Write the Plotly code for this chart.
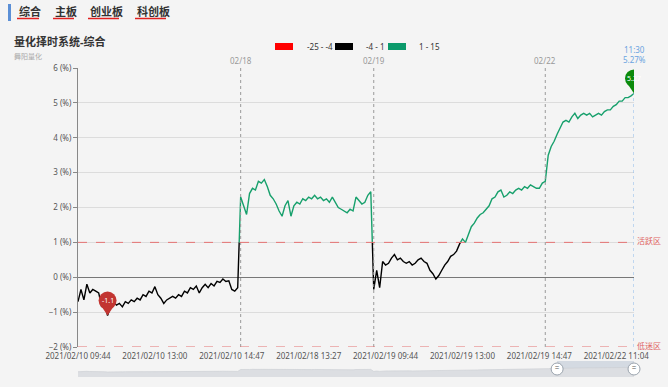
import plotly.graph_objects as go

# ---------------- data ----------------
tabs = ["综合", "主板", "创业板", "科创板"]
title_text = "量化择时系统-综合"
subtitle_text = "舞阳量化"
legend_labels = ["-25 - -4", "-4 - 1", "1 - 15"]
legend_colors = ["#ff0000", "#000000", "#0b9a6b"]
thresholds = [-4, 1]
line_colors = ["#ff0000", "#000000", "#17a06c"]

values = [
    -0.70, -0.35, -0.65, -0.20, -0.45, -0.35, -0.40, -0.45, -0.85, -0.75,
    -1.10, -0.85, -0.70, -0.80, -0.75, -0.85, -0.70, -0.75, -0.65, -0.70,
    -0.60, -0.65, -0.50, -0.55, -0.40, -0.45, -0.27, -0.50, -0.60, -0.75,
    -0.65, -0.60, -0.55, -0.60, -0.50, -0.55, -0.40, -0.45, -0.30, -0.35,
    -0.25, -0.45, -0.30, -0.20, -0.30, -0.18, -0.25, -0.12, -0.15, -0.05,
    -0.12, -0.10, -0.35, -0.40, -0.30, 2.30, 2.05, 1.80, 2.40, 2.55,
    2.50, 2.75, 2.70, 2.80, 2.60, 2.35, 2.25, 2.10, 1.90, 1.75,
    2.05, 2.20, 1.75, 2.05, 2.15, 2.10, 2.25, 2.20, 2.30, 2.25,
    2.35, 2.25, 2.30, 2.20, 2.25, 2.15, 2.30, 2.15, 2.00, 1.95,
    1.90, 1.85, 1.95, 1.90, 2.30, 2.20, 2.10, 2.15, 2.35, 2.45,
    -0.35, 0.20, -0.30, 0.45, 0.35, 0.40, 0.55, 0.65, 0.50, 0.55,
    0.45, 0.40, 0.45, 0.35, 0.40, 0.50, 0.55, 0.45, 0.40, 0.20,
    0.10, -0.05, 0.05, 0.20, 0.35, 0.45, 0.60, 0.65, 0.75, 0.95,
    1.10, 1.00, 1.25, 1.45, 1.55, 1.70, 1.80, 1.85, 1.95, 2.05,
    2.25, 2.30, 2.45, 2.50, 2.30, 2.35, 2.45, 2.40, 2.50, 2.55,
    2.50, 2.60, 2.55, 2.65, 2.60, 2.55, 2.55, 2.70, 2.75, 3.50,
    3.75, 3.90, 4.10, 4.30, 4.45, 4.50, 4.45, 4.60, 4.70, 4.55,
    4.65, 4.70, 4.65, 4.70, 4.60, 4.65, 4.70, 4.65, 4.75, 4.80,
    4.80, 4.90, 4.95, 5.05, 5.05, 5.15, 5.15, 5.20, 5.27,
]
tick_idx = [0, 26, 52, 78, 104, 130, 156, 182]
tick_text = ["2021/02/10 09:44", "2021/02/10 13:00", "2021/02/10 14:47",
             "2021/02/18 13:27", "2021/02/19 09:44", "2021/02/19 13:00",
             "2021/02/19 14:47", "2021/02/22 11:04"]
day_idx = [55, 100, 158]
day_text = ["02/18", "02/19", "02/22"]
zone_levels = [1, -2]
zone_text = ["活跃区", "低迷区"]
last_time = "11:30"
zoom_window = [162, 188]

# ---------------- layout helpers ----------------
W, H = 668, 387
ML, MR, MT, MB = 78, 34, 68, 10
PW, PH = W - ML - MR, H - MT - MB
MAIN_BOTTOM = 347
SLIDER_TOP = 361


def px2x(px):
    return (px - ML) / PW


def py2y(py):
    return (H - MB - py) / PH


FONT = "Noto Sans, Noto Sans CJK SC, sans-serif"
n = len(values)
xs_all = list(range(n))


def band(v):
    if v < thresholds[0]:
        return 0
    if v <= thresholds[1]:
        return 1
    return 2


# split line into colour bands (visual map)
segments = []
cur = band(values[0])
sx, sy = [0], [values[0]]
for i in range(1, n):
    v0, v1 = values[i - 1], values[i]
    b1 = band(v1)
    if b1 != cur:
        lv_list = [t for t in thresholds if min(v0, v1) < t < max(v0, v1) or t == v1 or t == v0]
        lv_list = sorted(set(lv_list), reverse=(v1 < v0))
        for lv in lv_list:
            if v1 == v0:
                continue
            t = (lv - v0) / (v1 - v0)
            xc = i - 1 + t
            sx.append(xc)
            sy.append(lv)
            segments.append((cur, sx, sy))
            cur = band(lv + (1e-9 if v1 > v0 else -1e-9))
            sx, sy = [xc], [lv]
        cur = b1
    sx.append(i)
    sy.append(v1)
segments.append((cur, sx, sy))

fig = go.Figure()

for b, x, y in segments:
    fig.add_trace(go.Scatter(x=x, y=y, mode="lines", line=dict(color=line_colors[b], width=1.4),
                             showlegend=False, hoverinfo="skip"))

# slider silhouette
fig.add_trace(go.Scatter(x=xs_all, y=[v + 8 for v in values], xaxis="x2", yaxis="y2", mode="lines",
                         fill="tozeroy", fillcolor="#dcdee2", line=dict(color="#c9ccd1", width=0.6),
                         showlegend=False, hoverinfo="skip"))
fig.add_trace(go.Scatter(x=zoom_window, y=[11, 11], xaxis="x2", yaxis="y2", mode="markers+text",
                         marker=dict(size=12, color="white", line=dict(color="#9aa3ad", width=1)),
                         text=["=", "="], textposition="middle center",
                         textfont=dict(size=8, color="#555"),
                         showlegend=False, hoverinfo="skip", cliponaxis=False))

shapes = []
annotations = []

# day separators
for d, t in zip(day_idx, day_text):
    shapes.append(dict(type="line", xref="x", yref="y", x0=d, x1=d, y0=-2, y1=6,
                       line=dict(color="#9a9a9a", width=1, dash="dot")))
    annotations.append(dict(x=d, y=1, xref="x", yref="paper", yanchor="bottom", yshift=0,
                            text=t, showarrow=False, font=dict(size=8, color="#999")))

# zone lines
for lv, t in zip(zone_levels, zone_text):
    shapes.append(dict(type="line", xref="paper", yref="y", x0=0, x1=1, y0=lv, y1=lv,
                       line=dict(color="#e57373", width=1, dash="dash")))
    annotations.append(dict(x=1, y=lv, xref="paper", yref="y", xanchor="left", xshift=1,
                            yshift=2, text=t, showarrow=False, font=dict(size=8, color="#e06464")))

# last point vertical line + label
last_i = n - 1
last_v = values[-1]
shapes.append(dict(type="line", xref="x", yref="y", x0=last_i, x1=last_i, y0=-2, y1=last_v,
                   line=dict(color="#8ab8ea", width=1, dash="dot")))
annotations.append(dict(x=last_i, y=1, xref="x", yref="paper", yanchor="bottom", yshift=11,
                        text=last_time, showarrow=False, font=dict(size=8, color="#6aa3e0")))
annotations.append(dict(x=last_i, y=1, xref="x", yref="paper", yanchor="bottom", yshift=1,
                        text=f"{last_v:.2f}%", showarrow=False, font=dict(size=8, color="#6aa3e0")))

# pins
min_i = min(range(n), key=lambda i: values[i])
for idx, col, label in [(min_i, "#c23531", f"{values[min_i]:.1f}"), (last_i, "#0b8a0b", f"{last_v:.2f}")]:
    v = values[idx]
    shapes.append(dict(type="circle", xref="x", yref="y", xsizemode="pixel", ysizemode="pixel",
                       xanchor=idx, yanchor=v, x0=-9, x1=9, y0=6, y1=24,
                       fillcolor=col, line=dict(width=0)))
    shapes.append(dict(type="path", xref="x", yref="y", xsizemode="pixel", ysizemode="pixel",
                       xanchor=idx, yanchor=v, path="M -6 9 L 6 9 L 0 0 Z",
                       fillcolor=col, line=dict(width=0)))
    annotations.append(dict(x=idx, y=v, xref="x", yref="y", yshift=15, text=label,
                            showarrow=False, font=dict(size=7, color="white")))

# slider selected window
shapes.append(dict(type="rect", xref="x2", yref="paper", x0=zoom_window[0], x1=zoom_window[1],
                   y0=py2y(377), y1=py2y(SLIDER_TOP), fillcolor="rgba(130,150,180,0.28)",
                   line=dict(width=0), layer="below"))

# header tabs
tab_left = [17, 53, 88, 135]
tab_right = [39, 74, 119, 166]
shapes.append(dict(type="rect", xref="paper", yref="paper", x0=px2x(8), x1=px2x(11),
                   y0=py2y(21), y1=py2y(4), fillcolor="#5b8fd6", line=dict(width=0)))
for t, l, r in zip(tabs, tab_left, tab_right):
    annotations.append(dict(x=px2x(l), y=py2y(11.5), xref="paper", yref="paper", xanchor="left",
                            yanchor="middle", text=f"<b>{t}</b>", showarrow=False,
                            font=dict(size=11, color="#333")))
    shapes.append(dict(type="line", xref="paper", yref="paper", x0=px2x(l), x1=px2x(r),
                       y0=py2y(18.5), y1=py2y(18.5), line=dict(color="#e02020", width=1.5)))

# title
annotations.append(dict(x=px2x(12), y=py2y(42), xref="paper", yref="paper", xanchor="left",
                        yanchor="middle", text=f"<b>{title_text}</b>", showarrow=False,
                        font=dict(size=11, color="#333")))
annotations.append(dict(x=px2x(12), y=py2y(56), xref="paper", yref="paper", xanchor="left",
                        yanchor="middle", text=subtitle_text, showarrow=False,
                        font=dict(size=7, color="#aaa")))

# legend
leg_rect_left = [275, 335, 388]
leg_text_left = [305, 364, 417]
for lab, col, rl, tl in zip(legend_labels, legend_colors, leg_rect_left, leg_text_left):
    shapes.append(dict(type="rect", xref="paper", yref="paper", x0=px2x(rl), x1=px2x(rl + 18),
                       y0=py2y(50), y1=py2y(43), fillcolor=col, line=dict(width=0)))
    annotations.append(dict(x=px2x(tl), y=py2y(46.5), xref="paper", yref="paper", xanchor="left",
                            yanchor="middle", text=lab, showarrow=False,
                            font=dict(size=8, color="#333")))

main_dom_bottom = py2y(MAIN_BOTTOM)

fig.update_layout(
    width=W, height=H,
    margin=dict(l=ML, r=MR, t=MT, b=MB, autoexpand=False),
    paper_bgcolor="#f4f4f4", plot_bgcolor="#f4f4f4",
    font=dict(family=FONT, size=8, color="#555"),
    showlegend=False,
    xaxis=dict(range=[0, n - 1], domain=[0, 1], anchor="y", showgrid=False, zeroline=False,
               tickvals=tick_idx, ticktext=tick_text, ticks="", showline=False, automargin=False,
               ticklabelstandoff=3, tickfont=dict(size=8, color="#555")),
    yaxis=dict(range=[-2, 6], domain=[main_dom_bottom, 1], dtick=1, ticksuffix=" (%)",
               gridcolor="#dcdcdc", gridwidth=1, zeroline=True, zerolinecolor="#777",
               zerolinewidth=1, showline=True, linecolor="#888", ticks="outside", ticklen=4,
               tickcolor="#888", tickfont=dict(size=8, color="#555"), automargin=False),
    xaxis2=dict(range=[0, n - 1], domain=[0, 1], anchor="y2", visible=False, automargin=False),
    yaxis2=dict(range=[0, 22], domain=[0, py2y(SLIDER_TOP)], visible=False, automargin=False),
    shapes=shapes,
    annotations=annotations,
)

fig.write_html("out.html", config={"displayModeBar": False},
               post_script="document.body.style.margin='0px';document.body.style.overflow='hidden';")
